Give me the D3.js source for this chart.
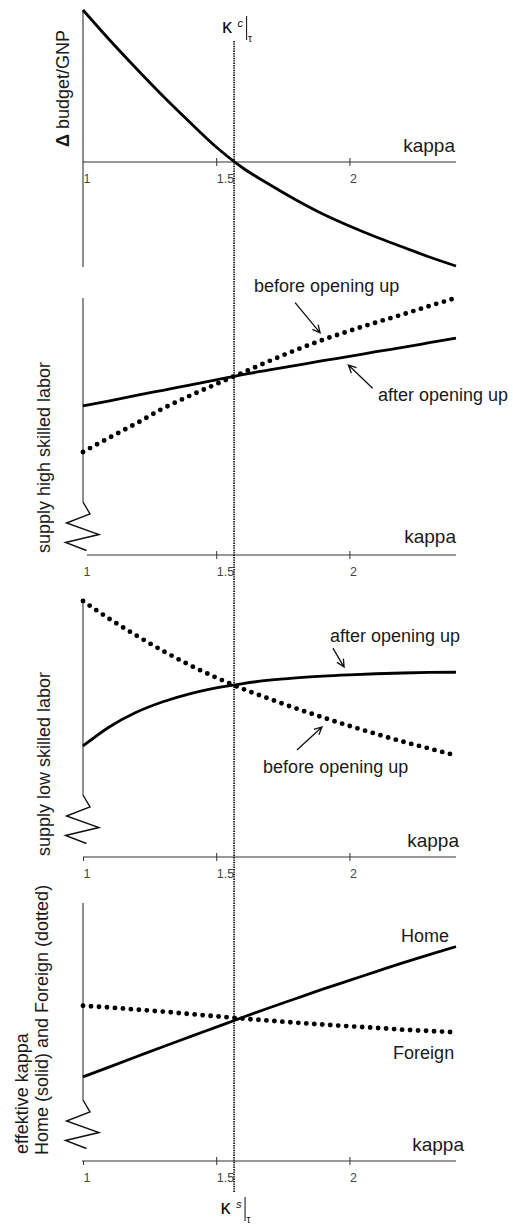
<!DOCTYPE html>
<html>
<head>
<meta charset="utf-8">
<script src="https://cdn.jsdelivr.net/npm/d3@7"></script>
<style>
  html, body { margin: 0; padding: 0; background: #fff; }
  svg { display: block; }
  text { font-family: "Liberation Sans", Arial, sans-serif; }
</style>
</head>
<body>
<svg id="chart" width="513" height="1228"></svg>
<script>
// kappa grid shared by all four panels
const kappa = [1.0, 1.1, 1.2, 1.3, 1.4, 1.5, 1.6, 1.7, 1.8, 1.9, 2.0, 2.1, 2.2, 2.3, 2.4];

// Panel 1: change of budget relative to GNP
const budget = [3.04, 2.44, 1.87, 1.32, 0.80, 0.30, -0.12, -0.45, -0.76, -1.04, -1.28, -1.50, -1.70, -1.90, -2.08];

// Panel 2: supply of high skilled labor (index)
const highBefore = [40.1, 45.7, 51.2, 57.0, 61.9, 66.5, 71.0, 75.5, 79.8, 83.7, 87.2, 90.5, 93.6, 96.9, 100.0];
const highAfter  = [58.0, 60.0, 62.1, 64.1, 66.1, 68.1, 70.2, 72.0, 73.8, 75.6, 77.3, 79.1, 80.8, 82.6, 84.4];

// Panel 3: supply of low skilled labor (index)
const lowBefore = [99.6, 92.6, 86.2, 80.2, 74.7, 69.8, 65.4, 61.5, 57.8, 54.3, 51.0, 47.9, 44.9, 42.2, 39.5];
const lowAfter  = [43.2, 50.7, 56.3, 60.4, 63.5, 65.8, 67.5, 68.8, 69.7, 70.4, 70.9, 71.3, 71.6, 71.8, 71.9];

// Panel 4: effective kappa, Home and Foreign (index)
const home    = [32.6, 36.5, 40.4, 44.3, 48.1, 51.9, 55.7, 59.4, 63.0, 66.6, 70.0, 73.4, 76.8, 80.0, 83.1];
const foreign = [60.2, 59.5, 58.7, 57.9, 57.0, 56.1, 55.2, 54.4, 53.6, 52.9, 52.2, 51.6, 50.9, 50.4, 49.9];

// Axis ticks and the critical kappa
const xTicks = [1, 1.5, 2];
const kappaStar = 1.567;

const svg = d3.select("#chart");
const x = d3.scaleLinear().domain([1, 2.4]).range([83, 456]);

const INK = "#111";
const AXIS = "#333";
const TICKTXT = "#444";
const TXT = "#1a1a1a";

// Broken-axis zigzag, offsets from the break point on the y axis
const zig = [[0, 0], [7, 12], [-16.5, 21], [16, 32.5], [-17.5, 40.5], [3.5, 48.5]];

const panels = [
  {
    axisY: 162, top: 10, bottom: 267, yDomain: [-2.1, 3.04], axisStart: 83, tickAtOne: "none",
    kappaLbl: { x: 455, y: 152 },
    yLabel: [{ x: 69, y: 147, parts: [{ t: "\u0394", bold: true }, { t: " budget/GNP" }] }],
    series: [{ v: budget, dotted: false }],
    notes: [], arrows: []
  },
  {
    axisY: 555, top: 298, breakY: 502, yDomain: [0, 100], axisStart: 87, tickAtOne: "none",
    kappaLbl: { x: 456, y: 543 },
    yLabel: [{ x: 50, y: 553, parts: [{ t: "supply high skilled labor" }] }],
    series: [{ v: highAfter, dotted: false }, { v: highBefore, dotted: true }],
    notes: [
      { text: "before opening up", k: 1.642, v: 102.3 },
      { text: "after opening up", k: 2.107, v: 59.9 }
    ],
    arrows: [
      { k0: 1.796, v0: 98.2, k1: 1.89, v1: 86.4 },
      { k0: 2.087, v0: 64.9, k1: 1.996, v1: 73.9 }
    ]
  },
  {
    axisY: 857, top: 600, breakY: 795, yDomain: [0, 100], axisStart: 83, tickAtOne: "down",
    kappaLbl: { x: 459, y: 847 },
    yLabel: [{ x: 50, y: 856, parts: [{ t: "supply low skilled labor" }] }],
    series: [{ v: lowAfter, dotted: false }, { v: lowBefore, dotted: true }],
    notes: [
      { text: "after opening up", k: 1.927, v: 83.7 },
      { text: "before opening up", k: 1.676, v: 32.7 }
    ],
    arrows: [
      { k0: 1.938, v0: 81.3, k1: 1.98, v1: 73.9 },
      { k0: 1.803, v0: 41.6, k1: 1.897, v1: 50.6 }
    ]
  },
  {
    axisY: 1161, top: 903, breakY: 1100, yDomain: [0, 100], axisStart: 82, tickAtOne: "down",
    kappaLbl: { x: 464, y: 1151 },
    yLabel: [
      { x: 28, y: 1154, parts: [{ t: "effektive kappa" }] },
      { x: 48, y: 1155, parts: [{ t: "Home (solid) and Foreign (dotted)" }] }
    ],
    series: [{ v: home, dotted: false }, { v: foreign, dotted: true }],
    notes: [
      { text: "Home", k: 2.194, v: 84.9 },
      { text: "Foreign", k: 2.164, v: 39.5 }
    ],
    arrows: []
  }
];

function drawPanel(p) {
  const g = svg.append("g");
  const y = d3.scaleLinear().domain(p.yDomain)
    .range([p.bottom !== undefined ? p.bottom : p.axisY, p.top]);

  // vertical axis (with a break where the origin is cut)
  const ax0 = x(1);
  const yEnd = p.breakY !== undefined ? p.breakY : p.bottom;
  g.append("line")
    .attr("x1", ax0).attr("x2", ax0)
    .attr("y1", p.top).attr("y2", yEnd)
    .attr("stroke", AXIS).attr("stroke-width", 1.1);

  if (p.breakY !== undefined) {
    g.append("path")
      .attr("d", d3.line()(zig.map(([dx, dy]) => [ax0 + dx, p.breakY + dy])))
      .attr("fill", "none").attr("stroke", INK).attr("stroke-width", 1.4)
      .attr("stroke-linejoin", "miter");
  }

  // horizontal kappa axis
  const gx = g.append("g").attr("transform", `translate(0,${p.axisY})`);
  gx.call(d3.axisBottom(x).tickValues(xTicks).tickSize(4).tickSizeOuter(0).tickFormat(d3.format("")));
  gx.select(".domain").remove();
  gx.insert("line", ":first-child")
    .attr("x1", p.axisStart).attr("x2", x(2.4))
    .attr("stroke", AXIS).attr("stroke-width", 1.1);
  gx.selectAll(".tick line")
    .attr("stroke", AXIS)
    .attr("y1", d => d === 1 ? 0 : -4)
    .attr("y2", 4)
    .attr("display", d => (d === 1 && p.tickAtOne === "none") ? "none" : null);
  gx.selectAll(".tick text")
    .attr("text-anchor", "start")
    .attr("dy", null)
    .attr("y", 20.5)
    .attr("fill", TICKTXT)
    .attr("font-size", 12.5)
    .attr("font-family", "'Liberation Sans', Arial, sans-serif");

  g.append("text")
    .attr("x", p.kappaLbl.x).attr("y", p.kappaLbl.y)
    .attr("text-anchor", "end")
    .attr("font-size", 19).attr("fill", TXT)
    .text("kappa");

  // rotated y-axis label(s)
  p.yLabel.forEach(l => {
    const t = g.append("text")
      .attr("transform", `translate(${l.x},${l.y}) rotate(-90)`)
      .attr("text-anchor", "start")
      .attr("font-size", 18).attr("fill", TXT);
    l.parts.forEach(pt => {
      t.append("tspan").attr("font-weight", pt.bold ? "bold" : null).text(pt.t);
    });
  });

  // curves
  p.series.forEach(s => {
    const line = d3.line()
      .x((d, i) => x(kappa[i]))
      .y(d => y(d))
      .curve(d3.curveMonotoneX);
    const path = g.append("path")
      .attr("d", line(s.v))
      .attr("fill", "none")
      .attr("stroke", "#000");
    if (s.dotted) {
      path.attr("stroke-width", 4.9)
        .attr("stroke-linecap", "round")
        .attr("stroke-dasharray", "0 8");
    } else {
      path.attr("stroke-width", 2.8)
        .attr("stroke-linecap", "butt");
    }
  });

  // annotation texts
  p.notes.forEach(n => {
    g.append("text")
      .attr("x", x(n.k)).attr("y", y(n.v))
      .attr("font-size", 18).attr("fill", TXT)
      .text(n.text);
  });

  // annotation arrows with open heads
  p.arrows.forEach(a => {
    const x0 = x(a.k0), y0 = y(a.v0), x1 = x(a.k1), y1 = y(a.v1);
    const ang = Math.atan2(y1 - y0, x1 - x0);
    const L = 8.5, h = 0.45;
    const p1 = [x1 - L * Math.cos(ang - h), y1 - L * Math.sin(ang - h)];
    const p2 = [x1 - L * Math.cos(ang + h), y1 - L * Math.sin(ang + h)];
    g.append("path")
      .attr("d", `M${x0},${y0}L${x1},${y1}M${p1[0]},${p1[1]}L${x1},${y1}L${p2[0]},${p2[1]}`)
      .attr("fill", "none").attr("stroke", "#111").attr("stroke-width", 1.3);
  });
}

panels.forEach(drawPanel);

// critical kappa: dotted vertical through all panels
const xs = x(kappaStar);
svg.append("line")
  .attr("x1", xs).attr("x2", xs)
  .attr("y1", 41).attr("y2", 1193)
  .attr("stroke", "#000").attr("stroke-width", 1.6)
  .attr("stroke-dasharray", "1.4 1");

function kappaMark(xk, yBase, sup) {
  const g = svg.append("g").attr("fill", "#111");
  g.append("text")
    .attr("x", xk - 12).attr("y", yBase)
    .attr("font-family", "'DejaVu Serif', 'Liberation Serif', serif")
    .attr("font-size", 20)
    .text("\u03BA");
  g.append("text")
    .attr("x", xk + 3.5).attr("y", yBase - 6)
    .attr("font-family", "'Liberation Serif', 'Times New Roman', serif")
    .attr("font-style", "italic")
    .attr("font-size", 11)
    .text(sup);
  g.append("line")
    .attr("x1", xk + 12.5).attr("x2", xk + 12.5)
    .attr("y1", yBase - 17).attr("y2", yBase + 7)
    .attr("stroke", "#222").attr("stroke-width", 1.1);
  g.append("text")
    .attr("x", xk + 14).attr("y", yBase + 9)
    .attr("font-family", "'Liberation Serif', 'Times New Roman', serif")
    .attr("font-size", 10)
    .text("\u03C4");
}
kappaMark(xs, 33, "c");
kappaMark(xs - 1.5, 1214, "s");
</script>
</body>
</html>
